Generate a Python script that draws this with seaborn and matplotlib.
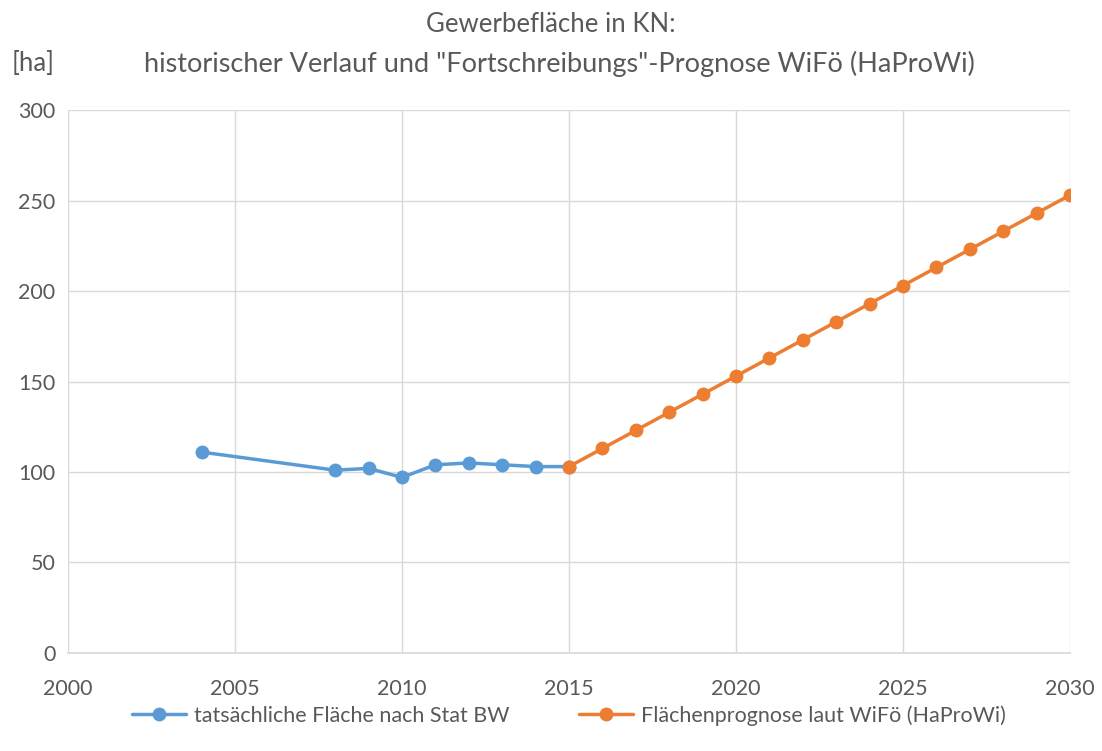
import matplotlib
matplotlib.use("Agg")
import matplotlib.pyplot as plt
import seaborn as sns
import pandas as pd

hist_years = [2004, 2008, 2009, 2010, 2011, 2012, 2013, 2014, 2015]
hist_values = [111, 101, 102, 97, 104, 105, 104, 103, 103]
prog_years = [2015, 2016, 2017, 2018, 2019, 2020, 2021, 2022, 2023,
              2024, 2025, 2026, 2027, 2028, 2029, 2030]
prog_values = [103, 113, 123, 133, 143, 153, 163, 173, 183,
               193, 203, 213, 223, 233, 243, 253]
label_hist = "tatsächliche Fläche nach Stat BW"
label_prog = "Flächenprognose laut WiFö (HaProWi)"
x_ticks = [2000, 2005, 2010, 2015, 2020, 2025, 2030]
y_ticks = [0, 50, 100, 150, 200, 250, 300]

sns.set_theme(style="white")
plt.rcParams['font.family'] = ['Lato', 'DejaVu Sans']

df = pd.concat([
    pd.DataFrame({"Jahr": hist_years, "Fläche": hist_values, "Serie": label_hist}),
    pd.DataFrame({"Jahr": prog_years, "Fläche": prog_values, "Serie": label_prog}),
])

fig = plt.figure(figsize=(11.02, 7.51), dpi=100)
ax = fig.add_axes([0.0617, 0.1305, 0.9093, 0.723])

sns.lineplot(data=df, x="Jahr", y="Fläche", hue="Serie",
             palette=["#5B9BD5", "#ED7D31"], marker="o", markersize=10,
             markeredgewidth=0, linewidth=2.5, ax=ax, legend=True)

ax.set_xlim(2000, 2030)
ax.set_ylim(0, 300)
ax.set_xticks(x_ticks)
ax.set_yticks(y_ticks)
ax.grid(True, color="#d9d9d9", linewidth=1)
ax.set_axisbelow(True)
for s in ["top", "right", "left"]:
    ax.spines[s].set_visible(False)
ax.spines["bottom"].set_color("#d9d9d9")
ax.tick_params(axis="both", colors="#595959", labelsize=15.5, length=0)
ax.tick_params(axis="x", pad=19)
ax.tick_params(axis="y", pad=9)
ax.set_xlabel("")
ax.set_ylabel("")

fig.text(0.5, 0.968, "Gewerbefläche in KN:", ha="center", va="center",
         fontsize=18.5, color="#595959")
fig.text(0.508, 0.915, "historischer Verlauf und \"Fortschreibungs\"-Prognose WiFö (HaProWi)",
         ha="center", va="center", fontsize=19.5, color="#595959")
fig.text(0.011, 0.915, "[ha]", ha="left", va="center", fontsize=18.5, color="#595959")

leg = ax.legend(loc="center", bbox_to_anchor=(0.5, -0.115), ncol=2, frameon=False,
                fontsize=15.5, handlelength=2.5, handletextpad=0.4, columnspacing=3.2,
                labelcolor="#595959")

fig.savefig("out.png", dpi=100)
